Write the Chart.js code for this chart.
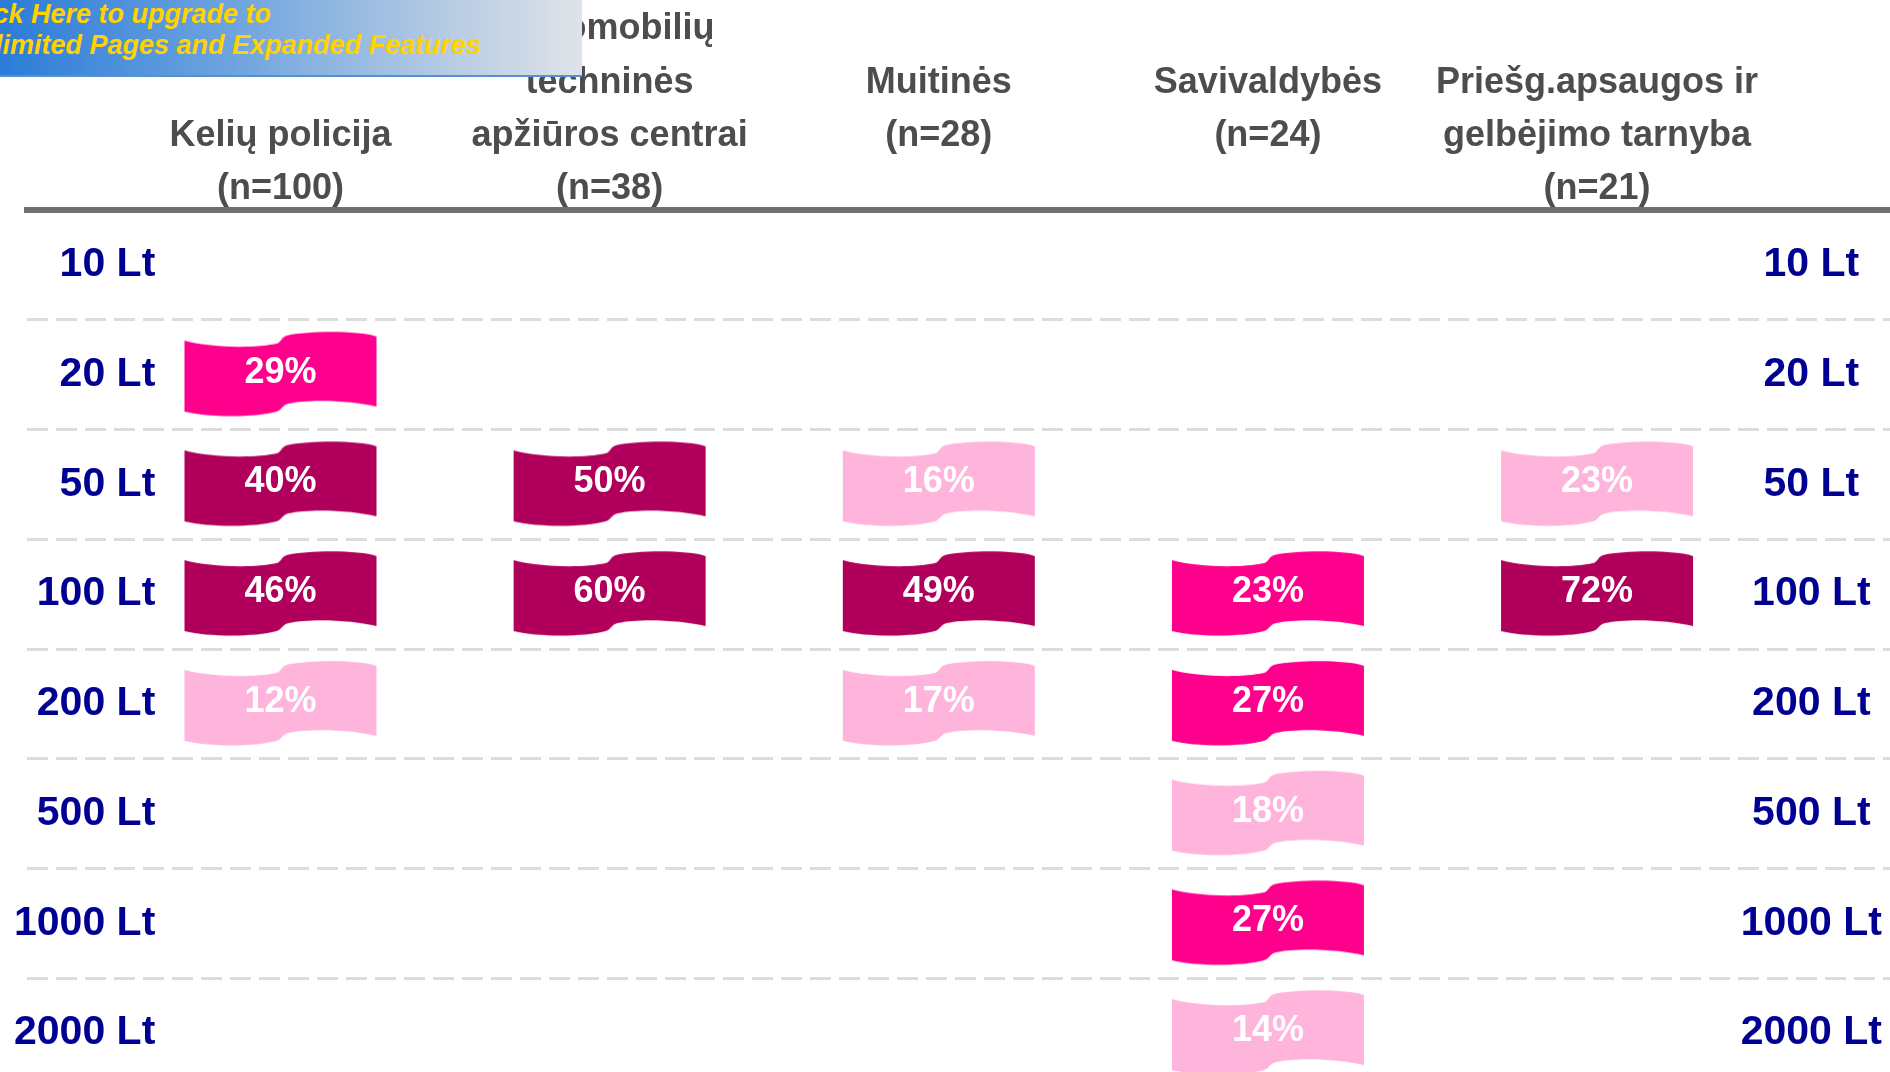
<!DOCTYPE html>
<html lang="lt">
<head>
<meta charset="utf-8">
<title>Kyšio dydis pagal instituciją</title>
<script src="https://cdn.jsdelivr.net/npm/chart.js@4.4.1/dist/chart.umd.min.js"></script>
<style>
  html, body { margin: 0; padding: 0; background: #fff; }
  #page { position: relative; width: 1890px; height: 1072px; overflow: hidden; }
  #wrap { position: absolute; left: 0; top: 0; width: 1890px; height: 1088px; }
  #banner {
    position: absolute; left: 0; top: 0; width: 582px; height: 75px; overflow: hidden;
    background: linear-gradient(to right, #2b7cd7 0%, #6ea4de 40%, #b3c9e3 75%, #dfe3e8 100%);
    border-bottom: 2px solid #5590d6;
  }
  #banner div {
    position: absolute; left: -41px; top: -1px; white-space: nowrap;
    font: italic bold 27px/31px "Liberation Sans", Arial, sans-serif; color: #ffd200;
  }
</style>
</head>
<body>
<div id="page">
  <div id="wrap"><canvas id="flags_canvas"></canvas></div>
  <div id="banner"><div>Click Here to upgrade to<br>Unlimited Pages and Expanded Features</div></div>
</div>
<script>
// stulpeliai (institucijos) ir eilutės (kyšio dydis)
var institutions = ['Kelių policija', 'Automobilių techninės apžiūros centrai', 'Muitinės', 'Savivaldybės', 'Priešg.apsaugos ir gelbėjimo tarnyba'];
var headerLines = [
    ['Kelių policija', '(n=100)'],
    ['Automobilių', 'techninės', 'apžiūros centrai', '(n=38)'],
    ['Muitinės', '(n=28)', ''],
    ['Savivaldybės', '(n=24)', ''],
    ['Priešg.apsaugos ir', 'gelbėjimo tarnyba', '(n=21)']
];
var amounts = ['10 Lt', '20 Lt', '50 Lt', '100 Lt', '200 Lt', '500 Lt', '1000 Lt', '2000 Lt'];

// [institucija, suma, %] - suskirstyta pagal vėliavėlės atspalvį
var deepFlags = [
    ['Kelių policija', '50 Lt', 40],
    ['Kelių policija', '100 Lt', 46],
    ['Automobilių techninės apžiūros centrai', '50 Lt', 50],
    ['Automobilių techninės apžiūros centrai', '100 Lt', 60],
    ['Muitinės', '100 Lt', 49],
    ['Priešg.apsaugos ir gelbėjimo tarnyba', '100 Lt', 72]
];
var brightFlags = [
    ['Kelių policija', '20 Lt', 29],
    ['Savivaldybės', '100 Lt', 23],
    ['Savivaldybės', '200 Lt', 27],
    ['Savivaldybės', '1000 Lt', 27]
];
var paleFlags = [
    ['Kelių policija', '200 Lt', 12],
    ['Muitinės', '50 Lt', 16],
    ['Muitinės', '200 Lt', 17],
    ['Savivaldybės', '500 Lt', 18],
    ['Savivaldybės', '2000 Lt', 14],
    ['Priešg.apsaugos ir gelbėjimo tarnyba', '50 Lt', 23]
];

var FONT = '"Liberation Sans", Arial, sans-serif';

// banguota vėliavėlė kaip taško stilius
function flagImage(color) {
    var c = document.createElement('canvas');
    c.width = 194;
    c.height = 90;
    var g = c.getContext('2d');
    g.translate(1, 2);
    g.fillStyle = color;
    g.beginPath();
    g.moveTo(0, 9);
    g.bezierCurveTo(25, 16, 70, 17, 92, 12);
    g.bezierCurveTo(97, 11, 96, 6, 102, 4);
    g.bezierCurveTo(125, -1, 175, -1, 192, 5);
    g.lineTo(192, 75);
    g.bezierCurveTo(170, 69, 125, 67, 104, 72);
    g.bezierCurveTo(97, 74, 98, 78, 92, 80);
    g.bezierCurveTo(70, 86, 25, 86, 0, 80);
    g.closePath();
    g.fill();
    return c;
}

function flagSet(list, color) {
    return {
        data: list.map(function (f) {
            return {x: institutions.indexOf(f[0]), y: f[1], v: f[2]};
        }),
        pointStyle: flagImage(color),
        pointRadius: 10,
        clip: false
    };
}

var percentLabels = {
    id: 'percentLabels',
    afterDatasetsDraw: function (chart) {
        var ctx = chart.ctx;
        ctx.save();
        ctx.font = 'bold 36px ' + FONT;
        ctx.fillStyle = '#ffffff';
        ctx.textAlign = 'center';
        ctx.textBaseline = 'middle';
        chart.data.datasets.forEach(function (ds, i) {
            chart.getDatasetMeta(i).data.forEach(function (pt, j) {
                ctx.fillText(ds.data[j].v + '%', pt.x, pt.y - 2);
            });
        });
        ctx.restore();
    }
};

var ctx = document.getElementById('flags_canvas').getContext('2d');
new Chart(ctx, {
    type: 'scatter',
    data: {
        datasets: [
            flagSet(deepFlags, '#b1005b'),
            flagSet(brightFlags, '#ff008c'),
            flagSet(paleFlags, '#ffb4dc')
        ]
    },
    plugins: [percentLabels],
    options: {
        responsive: true,
        maintainAspectRatio: false,
        animation: false,
        events: [],
        layout: {padding: 0, autoPadding: false},
        plugins: {
            legend: {display: false},
            tooltip: {enabled: false}
        },
        scales: {
            x: {
                type: 'linear',
                position: 'top',
                min: -0.77,
                max: 4.89,
                afterBuildTicks: function (s) {
                    s.ticks = institutions.map(function (_, i) { return {value: i}; });
                },
                afterFit: function (s) {
                    s.height = 210;
                    s.paddingLeft = 0;
                    s.paddingRight = 0;
                },
                grid: {display: false, drawTicks: false},
                border: {display: true, color: '#6f6f6f', width: 6},
                ticks: {
                    autoSkip: false,
                    maxRotation: 0,
                    minRotation: 0,
                    padding: -6,
                    color: '#4d4d4d',
                    font: {family: FONT, size: 36, weight: 'bold', lineHeight: 1.48},
                    callback: function (v) { return headerLines[v]; }
                }
            },
            y: {
                type: 'category',
                labels: amounts,
                offset: true,
                position: 'left',
                afterFit: function (s) {
                    s.width = 27;
                    s.paddingTop = 0;
                    s.paddingBottom = 0;
                },
                grid: {offset: true, drawTicks: false, color: '#dcdcdc', lineWidth: 3},
                border: {display: false, dash: [21, 8]},
                ticks: {
                    mirror: true,
                    crossAlign: 'far',
                    padding: -13,
                    color: '#000092',
                    font: {family: FONT, size: 41, weight: 'bold'}
                }
            },
            y2: {
                type: 'category',
                labels: amounts,
                offset: true,
                position: 'right',
                afterFit: function (s) {
                    s.width = 0;
                    s.paddingTop = 0;
                    s.paddingBottom = 0;
                },
                grid: {display: false, drawTicks: false},
                border: {display: false},
                ticks: {
                    mirror: true,
                    crossAlign: 'center',
                    padding: -8,
                    color: '#000092',
                    font: {family: FONT, size: 41, weight: 'bold'}
                }
            }
        }
    }
});
</script>
</body>
</html>
